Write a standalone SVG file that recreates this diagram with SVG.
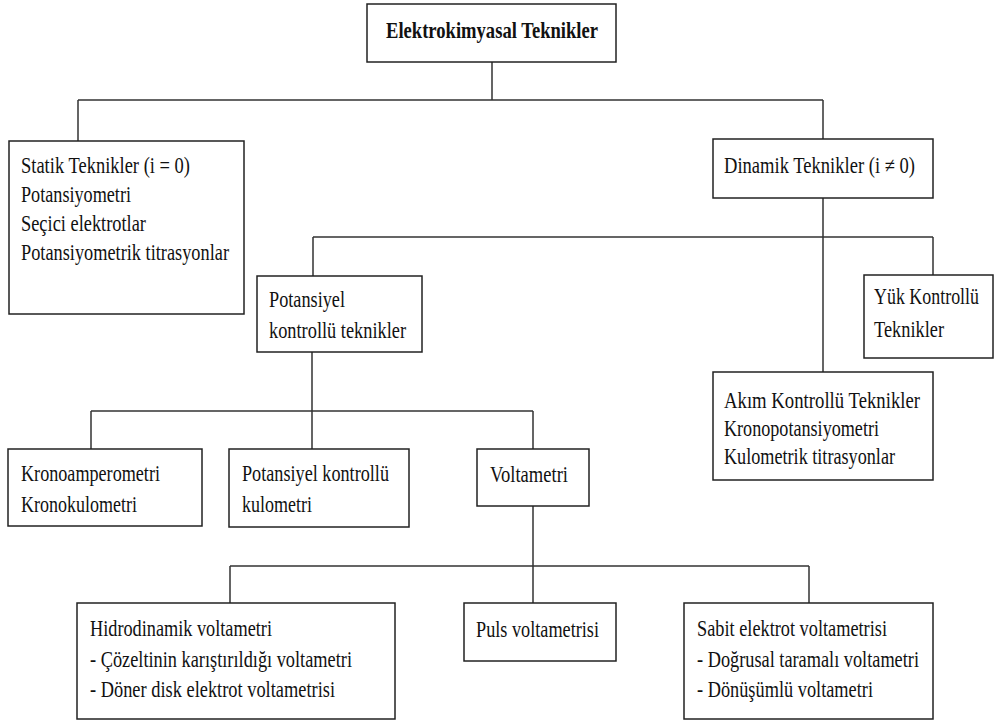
<svg xmlns="http://www.w3.org/2000/svg" width="995" height="720" viewBox="0 0 995 720">
<style>
.box{fill:#fff;stroke:#222;stroke-width:1.5}
.ln{fill:none;stroke:#333;stroke-width:1.5}
text{font-family:"Liberation Serif","Times New Roman",serif;font-size:22.5px;fill:#111}
.b{font-weight:bold}
</style>
<rect width="995" height="720" fill="#fff"/>
<g id="connectors">
<path class="ln" d="M492 62V100M78 100H823M78 100V141M823 100V139"/>
<path class="ln" d="M823 198V372M313 237H933M313 237V276M933 237V275"/>
<path class="ln" d="M312 352V449M91 411H533M91 411V449M533 411V449"/>
<path class="ln" d="M533 506V603M230 566H809M230 566V603M809 566V603"/>
</g>
<g id="n-root">
<rect class="box" x="367" y="4" width="249" height="58"/>
<text class="b" x="386" y="38" textLength="212" lengthAdjust="spacingAndGlyphs">Elektrokimyasal Teknikler</text>
</g>
<g id="n-statik">
<rect class="box" x="9" y="141" width="235" height="173"/>
<text x="21" y="173" textLength="169" lengthAdjust="spacingAndGlyphs">Statik Teknikler (i = 0)</text>
<text x="21" y="202" textLength="110" lengthAdjust="spacingAndGlyphs">Potansiyometri</text>
<text x="21" y="231" textLength="125" lengthAdjust="spacingAndGlyphs">Seçici elektrotlar</text>
<text x="21" y="260" textLength="208" lengthAdjust="spacingAndGlyphs">Potansiyometrik titrasyonlar</text>
</g>
<g id="n-dinamik">
<rect class="box" x="713" y="139" width="220" height="59"/>
<text x="724" y="173" textLength="191" lengthAdjust="spacingAndGlyphs">Dinamik Teknikler (i ≠ 0)</text>
</g>
<g id="n-potansiyel">
<rect class="box" x="257" y="276" width="165" height="76"/>
<text x="269" y="307" textLength="76" lengthAdjust="spacingAndGlyphs">Potansiyel</text>
<text x="269" y="338" textLength="137" lengthAdjust="spacingAndGlyphs">kontrollü teknikler</text>
</g>
<g id="n-yuk">
<rect class="box" x="864" y="275" width="129" height="83"/>
<text x="874" y="304" textLength="105" lengthAdjust="spacingAndGlyphs">Yük Kontrollü</text>
<text x="874" y="337" textLength="70" lengthAdjust="spacingAndGlyphs">Teknikler</text>
</g>
<g id="n-akim">
<rect class="box" x="713" y="372" width="220" height="108"/>
<text x="724" y="408" textLength="196" lengthAdjust="spacingAndGlyphs">Akım Kontrollü Teknikler</text>
<text x="724" y="436" textLength="155" lengthAdjust="spacingAndGlyphs">Kronopotansiyometri</text>
<text x="724" y="464" textLength="171" lengthAdjust="spacingAndGlyphs">Kulometrik titrasyonlar</text>
</g>
<g id="n-krono">
<rect class="box" x="8" y="449" width="194" height="77"/>
<text x="21" y="481" textLength="139" lengthAdjust="spacingAndGlyphs">Kronoamperometri</text>
<text x="21" y="512" textLength="116" lengthAdjust="spacingAndGlyphs">Kronokulometri</text>
</g>
<g id="n-potk">
<rect class="box" x="229" y="449" width="180" height="78"/>
<text x="242" y="481" textLength="147" lengthAdjust="spacingAndGlyphs">Potansiyel kontrollü</text>
<text x="242" y="512" textLength="70" lengthAdjust="spacingAndGlyphs">kulometri</text>
</g>
<g id="n-voltametri">
<rect class="box" x="477" y="449" width="112" height="57"/>
<text x="490" y="482" textLength="78" lengthAdjust="spacingAndGlyphs">Voltametri</text>
</g>
<g id="n-hidro">
<rect class="box" x="77" y="603" width="318" height="116"/>
<text x="90" y="636" textLength="182" lengthAdjust="spacingAndGlyphs">Hidrodinamik voltametri</text>
<text x="90" y="667" textLength="262" lengthAdjust="spacingAndGlyphs">- Çözeltinin karıştırıldığı voltametri</text>
<text x="90" y="697" textLength="245" lengthAdjust="spacingAndGlyphs">- Döner disk elektrot voltametrisi</text>
</g>
<g id="n-puls">
<rect class="box" x="464" y="603" width="152" height="58"/>
<text x="476" y="637" textLength="123" lengthAdjust="spacingAndGlyphs">Puls voltametrisi</text>
</g>
<g id="n-sabit">
<rect class="box" x="684" y="603" width="249" height="116"/>
<text x="697" y="636" textLength="190" lengthAdjust="spacingAndGlyphs">Sabit elektrot voltametrisi</text>
<text x="697" y="667" textLength="222" lengthAdjust="spacingAndGlyphs">- Doğrusal taramalı voltametri</text>
<text x="697" y="697" textLength="176" lengthAdjust="spacingAndGlyphs">- Dönüşümlü voltametri</text>
</g>
</svg>
